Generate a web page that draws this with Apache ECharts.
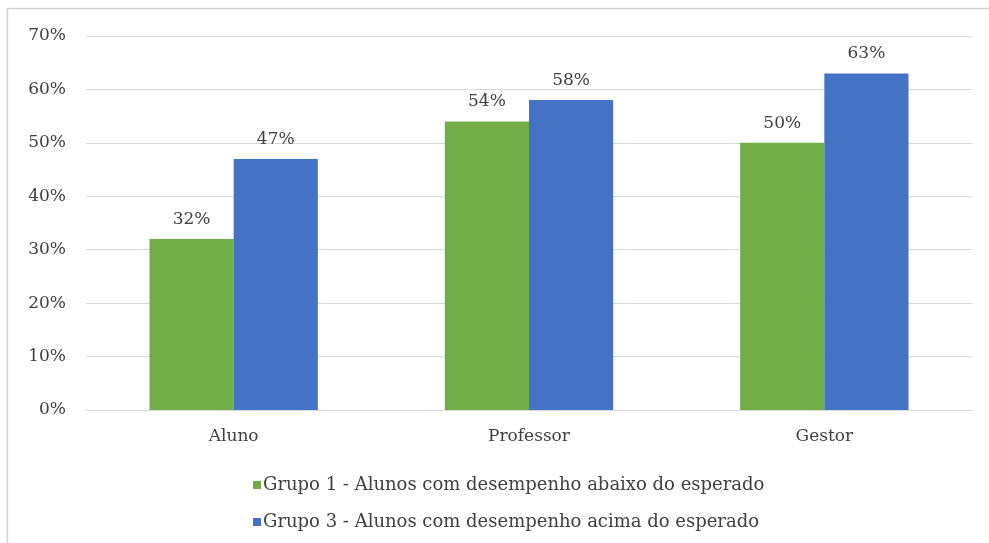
<!DOCTYPE html>
<html>
<head>
<meta charset="utf-8">
<script src="https://cdn.jsdelivr.net/npm/echarts@6/dist/echarts.min.js"></script>
<style>
  html, body { margin: 0; padding: 0; background: #ffffff; }
  #chart { width: 989px; height: 543px; }
</style>
</head>
<body>
<div id="chart"></div>
<script>
// Categories and series values (percent)
const categories = ['Aluno', 'Professor', 'Gestor'];
const grupo1Name = 'Grupo 1 - Alunos com desempenho abaixo do esperado';
const grupo3Name = 'Grupo 3 - Alunos com desempenho acima do esperado';
const grupo1Values = [32, 54, 50];
const grupo3Values = [47, 58, 63];
const yTicks = { min: 0, max: 70, interval: 10 };

const serif = '"DejaVu Serif", "Liberation Serif", serif';
const textColor = '#404040';

const chart = echarts.init(document.getElementById('chart'), null, { renderer: 'canvas' });

const labelStyle = {
  show: true,
  position: 'top',
  distance: 11,
  formatter: '{c}%',
  fontFamily: serif,
  fontSize: 17,
  color: textColor
};

chart.setOption({
  animation: false,
  backgroundColor: '#ffffff',
  graphic: [
    {
      // chart area frame, running off the right and bottom edges
      type: 'polyline',
      shape: { points: [[7.5, 560], [7.5, 8.5], [1000, 8.5]] },
      style: { fill: 'none', stroke: '#d4d4d4', lineWidth: 1.5 },
      silent: true,
      z: -1
    }
  ],
  grid: { left: 86, right: 17, top: 36, bottom: 133, containLabel: false },
  legend: {
    orient: 'vertical',
    left: 248,
    top: 471,
    itemWidth: 8,
    itemHeight: 8,
    itemGap: 19,
    icon: 'rect',
    textStyle: { fontFamily: serif, fontSize: 18, color: textColor, padding: [0, 0, 0, -3] },
    data: [grupo1Name, grupo3Name]
  },
  xAxis: {
    type: 'category',
    data: categories,
    axisLine: { show: true, lineStyle: { color: '#d9d9d9', width: 1 } },
    axisTick: { show: false },
    axisLabel: { margin: 18, fontFamily: serif, fontSize: 17, color: textColor }
  },
  yAxis: {
    type: 'value',
    min: yTicks.min,
    max: yTicks.max,
    interval: yTicks.interval,
    axisLine: { show: false },
    axisTick: { show: false },
    splitLine: { lineStyle: { color: '#d9d9d9', width: 1 } },
    axisLabel: { margin: 20, formatter: '{value}%', fontFamily: serif, fontSize: 17, color: textColor }
  },
  series: [
    {
      name: grupo1Name,
      type: 'bar',
      data: grupo1Values,
      barGap: '0%',
      barCategoryGap: '43%',
      itemStyle: { color: '#70ad47' },
      label: labelStyle
    },
    {
      name: grupo3Name,
      type: 'bar',
      data: grupo3Values,
      barGap: '0%',
      barCategoryGap: '43%',
      itemStyle: { color: '#4472c4' },
      label: labelStyle
    }
  ]
});
</script>
</body>
</html>
